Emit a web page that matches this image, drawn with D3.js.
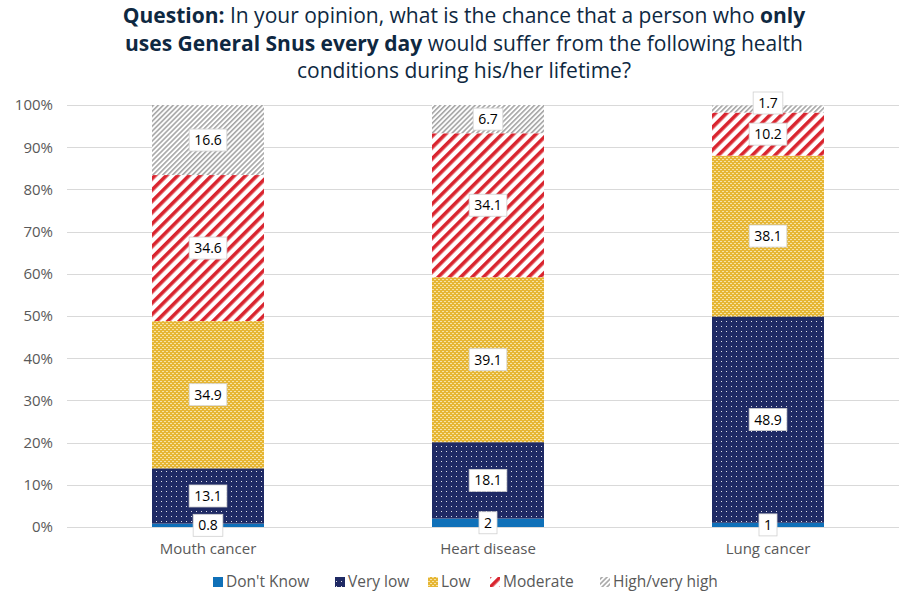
<!DOCTYPE html>
<html><head><meta charset="utf-8">
<script src="https://cdn.jsdelivr.net/npm/d3@7"></script>
<style>body{margin:0;background:#fff}svg{display:block}</style>
</head><body>
<svg id="c" width="899" height="596"></svg>
<script>
const categories = ["Mouth cancer", "Heart disease", "Lung cancer"];
const seriesNames = ["Don't Know", "Very low", "Low", "Moderate", "High/very high"];
const dontKnow = [0.8, 2, 1];
const veryLow = [13.1, 18.1, 48.9];
const low = [34.9, 39.1, 38.1];
const moderate = [34.6, 34.1, 10.2];
const high = [16.6, 6.7, 1.7];
const yTicks = [0, 10, 20, 30, 40, 50, 60, 70, 80, 90, 100];

const seriesValues = [dontKnow, veryLow, low, moderate, high];
const svg = d3.select("#c");
const font = "'Open Sans', Roboto, sans-serif";
const W = 899, H = 596;
const m = {l: 68, r: -9, t: 105, b: 69};

const x = d3.scaleBand().domain(categories).range([m.l, W - m.r]).paddingInner(0.6).paddingOuter(0.3);
const y = d3.scaleLinear().domain([0, 100]).range([H - m.b, m.t]);

const defs = svg.append("defs");
let p = defs.append("pattern").attr("id", "p1").attr("patternUnits", "userSpaceOnUse").attr("width", 5).attr("height", 5);
p.append("rect").attr("width", 5).attr("height", 5).attr("fill", "#1f2a64");
p.append("rect").attr("x", 1).attr("y", 1).attr("width", 1).attr("height", 1).attr("fill", "#ffffff").attr("opacity", 0.85);
p = defs.append("pattern").attr("id", "p2").attr("patternUnits", "userSpaceOnUse").attr("width", 4).attr("height", 4);
p.append("rect").attr("width", 4).attr("height", 4).attr("fill", "#e6b634");
p.append("rect").attr("x", 0).attr("y", 1).attr("width", 2).attr("height", 1).attr("fill", "#f6e3a6");
p.append("rect").attr("x", 2).attr("y", 3).attr("width", 2).attr("height", 1).attr("fill", "#f6e3a6");
p = defs.append("pattern").attr("id", "p3").attr("patternUnits", "userSpaceOnUse").attr("width", 8).attr("height", 8).attr("patternTransform", "rotate(45)");
p.append("rect").attr("width", 8).attr("height", 8).attr("fill", "#ffffff");
p.append("rect").attr("x", 0).attr("width", 3.6).attr("height", 8).attr("fill", "#d9252f");
p = defs.append("pattern").attr("id", "p4").attr("patternUnits", "userSpaceOnUse").attr("width", 3.5).attr("height", 3.5).attr("patternTransform", "rotate(45)");
p.append("rect").attr("width", 3.5).attr("height", 3.5).attr("fill", "#ffffff");
p.append("rect").attr("x", 0).attr("width", 1.6).attr("height", 3.5).attr("fill", "#a6a6a6");

const fills = ["#0f70b8", "url(#p1)", "url(#p2)", "url(#p3)", "url(#p4)"];

// title
const title = svg.append("text").attr("text-anchor", "middle").attr("font-family", font).attr("font-size", 21).attr("fill", "#0e2841");
const lines = [
  [["Question:", true], [" In your opinion, what is the chance that a person who ", false], ["only", true]],
  [["uses General Snus every day", true], [" would suffer from the following health", false]],
  [["conditions during his/her lifetime?", false]]
];
lines.forEach((ln, i) => {
  const t = title.append("tspan").attr("x", 464).attr("y", 23 + i * 27.5);
  ln.forEach(([s, b], j) => {
    const ts = j === 0 ? t : title.append("tspan");
    ts.text(s).attr("font-weight", b ? "bold" : "normal");
  });
});

// gridlines
svg.append("g").selectAll("line").data(yTicks).join("line")
  .attr("x1", m.l - 1).attr("x2", W).attr("y1", d => Math.round(y(d)) + 0.5).attr("y2", d => Math.round(y(d)) + 0.5)
  .attr("stroke", "#d9d9d9").attr("stroke-width", 1);

// y axis
const yAxis = d3.axisLeft(y).tickValues(yTicks).tickFormat(d => d + "%").tickSize(0).tickPadding(0);
const ga = svg.append("g").attr("transform", `translate(53,0)`).call(yAxis);
ga.select(".domain").remove();
ga.selectAll("text").attr("font-family", font).attr("font-size", 15).attr("fill", "#595959");

// x axis
const xAxis = d3.axisBottom(x).tickSize(0).tickPadding(0);
const gx = svg.append("g").attr("transform", `translate(0,${H - m.b + 16})`).call(xAxis);
gx.select(".domain").remove();
gx.selectAll("text").attr("font-family", font).attr("font-size", 15).attr("fill", "#595959");

const rows = categories.map((c, i) => {
  const o = {cat: c};
  seriesNames.forEach((s, k) => o[s] = seriesValues[k][i]);
  return o;
});
const stack = d3.stack().keys(seriesNames)(rows);

const gb = svg.append("g");
stack.forEach((layer, k) => {
  gb.append("g").selectAll("rect").data(layer).join("rect")
    .attr("x", d => x(d.data.cat)).attr("width", x.bandwidth())
    .attr("y", d => y(d[1])).attr("height", d => y(d[0]) - y(d[1]))
    .attr("fill", fills[k]);
});

const gl = svg.append("g");
stack.forEach((layer, k) => {
  layer.forEach(d => {
    const v = d[1] - d[0];
    const txt = String(seriesValues[k][categories.indexOf(d.data.cat)]);
    let cy = y((d[0] + d[1]) / 2);
    if (k === 4 && v < 3) cy -= 6;
    const cx = x(d.data.cat) + x.bandwidth() / 2;
    const g = gl.append("g");
    const t = g.append("text").attr("x", cx).attr("y", cy).attr("dy", "0.35em").attr("text-anchor", "middle")
      .attr("font-family", font).attr("font-size", 14).attr("fill", "#000").text(txt);
    const bb = t.node().getBBox();
    g.insert("rect", "text").attr("x", bb.x - 5).attr("y", cy - 11).attr("width", bb.width + 10).attr("height", 22)
      .attr("fill", "#fff").attr("stroke", "#d0d0d0").attr("stroke-width", 0.8);
  });
});

// legend
const legendX = [213, 335, 428, 490, 600];
const lg = svg.append("g");
seriesNames.forEach((s, k) => {
  lg.append("rect").attr("x", legendX[k]).attr("y", 577).attr("width", 10).attr("height", 10).attr("fill", fills[k]);
  lg.append("text").attr("x", legendX[k] + 13).attr("y", 582).attr("dy", "0.35em")
    .attr("font-family", font).attr("font-size", 15.5).attr("fill", "#595959").text(s);
});
</script>
</body></html>
